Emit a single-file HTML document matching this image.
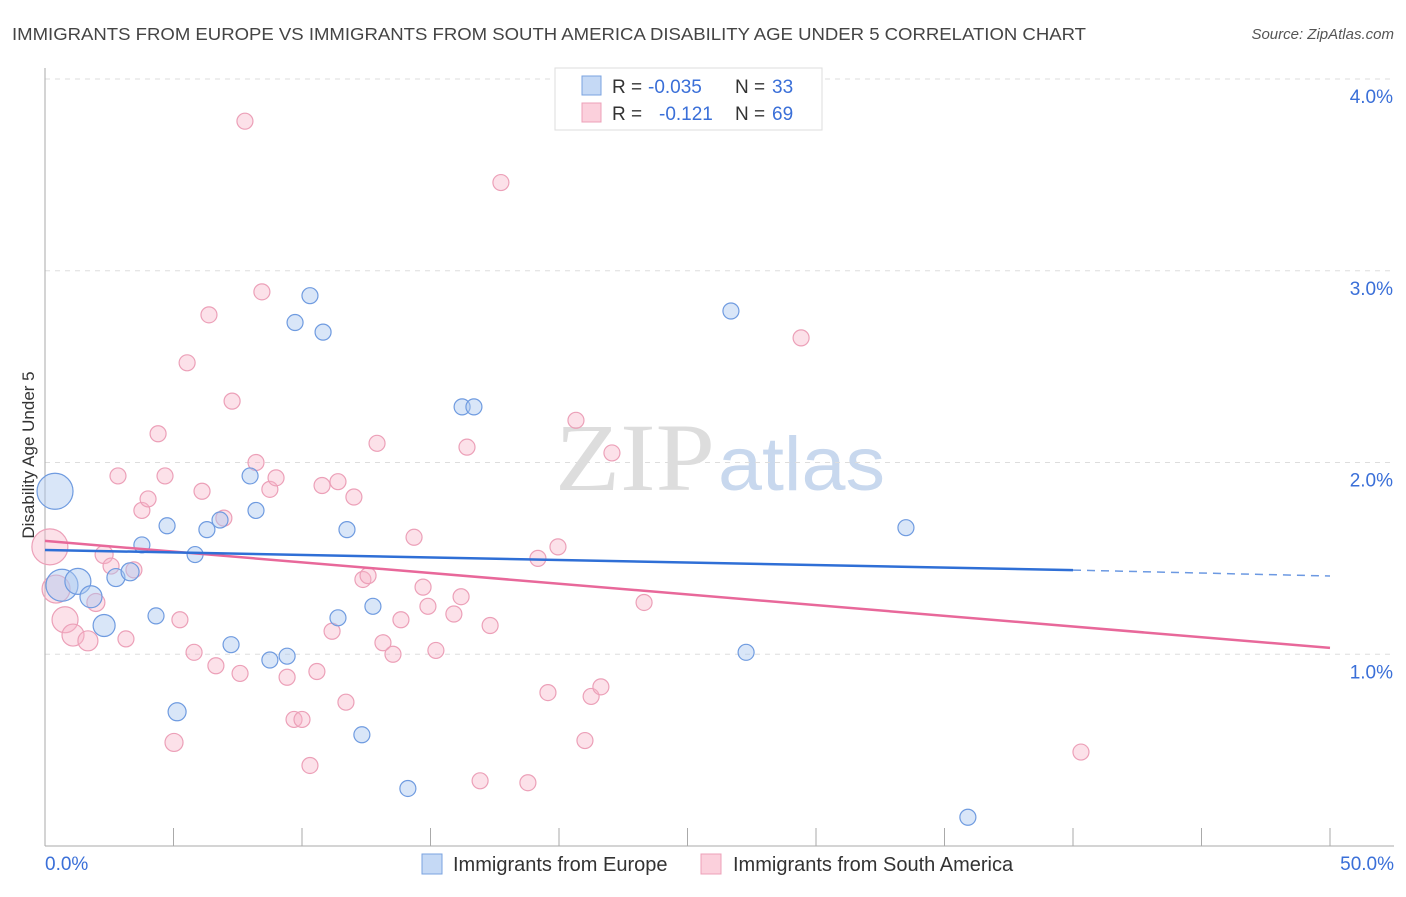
<!DOCTYPE html>
<html><head><meta charset="utf-8"><style>
body{margin:0;background:#fff;font-family:"Liberation Sans",sans-serif;}
</style></head><body>
<svg width="1406" height="892" xmlns="http://www.w3.org/2000/svg" font-family="Liberation Sans, sans-serif">
<text x="12" y="40" font-size="17.5" fill="#444" textLength="1074" lengthAdjust="spacingAndGlyphs">IMMIGRANTS FROM EUROPE VS IMMIGRANTS FROM SOUTH AMERICA DISABILITY AGE UNDER 5 CORRELATION CHART</text>
<text x="1394" y="39" font-size="15" fill="#555" font-style="italic" text-anchor="end">Source: ZipAtlas.com</text>
<text x="555" y="490" font-size="96" fill="#ddd" textLength="160" lengthAdjust="spacingAndGlyphs" font-family="Liberation Serif, serif">ZIP</text>
<text x="718" y="490" font-size="76" fill="#c8d8ee" textLength="167" lengthAdjust="spacingAndGlyphs">atlas</text>
<g id="grid"></g><g id="axes"></g><g id="pts"></g><g id="lines"></g>
<text transform="translate(34,455) rotate(-90)" font-size="17" fill="#333" text-anchor="middle">Disability Age Under 5</text>
<g>
<rect x="555" y="68" width="267" height="62" fill="#fff" stroke="#ddd"/>
<rect x="582" y="76" width="19" height="19" fill="#c5d9f5" stroke="#7aa3e0"/>
<rect x="582" y="103" width="19" height="19" fill="#fbd0dc" stroke="#eca0b8"/>
<text x="612" y="93" font-size="19" fill="#333">R =</text>
<text x="648" y="93" font-size="19" fill="#3a6fd8">-0.035</text>
<text x="735" y="93" font-size="19" fill="#333">N =</text>
<text x="772" y="93" font-size="19" fill="#3a6fd8">33</text>
<text x="612" y="120" font-size="19" fill="#333">R =</text>
<text x="659" y="120" font-size="19" fill="#3a6fd8">-0.121</text>
<text x="735" y="120" font-size="19" fill="#333">N =</text>
<text x="772" y="120" font-size="19" fill="#3a6fd8">69</text>
</g>
<g>
<rect x="422" y="854" width="20" height="20" fill="#c5d9f5" stroke="#7aa3e0"/>
<text x="453" y="871" font-size="20" fill="#333">Immigrants from Europe</text>
<rect x="701" y="854" width="20" height="20" fill="#fbd0dc" stroke="#eca0b8"/>
<text x="733" y="871" font-size="20" fill="#333">Immigrants from South America</text>
</g>
</svg>
<script>
const yTicks=[1,2,3,4];
const xTickLabels=["0.0%","50.0%"];
const blueX=[0.39,0.66,1.28,1.79,2.30,2.76,3.31,3.77,4.32,4.75,5.14,5.84,6.30,6.81,7.24,7.98,8.21,8.75,9.42,9.73,10.31,10.82,11.40,11.75,12.33,12.76,14.12,16.23,16.69,26.69,27.28,33.50,35.91];
const blueY=[1.85,1.36,1.38,1.30,1.15,1.40,1.43,1.57,1.20,1.67,0.70,1.52,1.65,1.70,1.05,1.93,1.75,0.97,0.99,2.73,2.87,2.68,1.19,1.65,0.58,1.25,0.30,2.29,2.29,2.79,1.01,1.66,0.15];
const blueR=[18,16,13,11,11,9,9,8,8,8,9,8,8,8,8,8,8,8,8,8,8,8,8,8,8,8,8,8,8,8,8,8,8];
const pinkX=[0.19,0.43,0.78,1.09,1.67,1.98,2.30,2.57,2.84,3.15,3.46,3.77,4.01,4.40,4.67,5.02,5.25,5.53,5.80,6.11,6.38,6.65,6.96,7.28,7.59,7.78,8.21,8.44,8.75,8.99,9.42,9.69,10.00,10.31,10.58,10.78,11.17,11.40,11.71,12.02,12.37,12.57,12.92,13.15,13.54,13.85,14.36,14.71,14.90,15.21,15.91,16.19,16.42,16.93,17.32,17.74,18.79,19.18,19.57,19.96,20.66,21.01,21.25,21.63,22.06,23.31,29.42,40.31];
const pinkY=[1.56,1.34,1.18,1.10,1.07,1.27,1.52,1.46,1.93,1.08,1.44,1.75,1.81,2.15,1.93,0.54,1.18,2.52,1.01,1.85,2.77,0.94,1.71,2.32,0.90,3.78,2.00,2.89,1.86,1.92,0.88,0.66,0.66,0.42,0.91,1.88,1.12,1.90,0.75,1.82,1.39,1.41,2.10,1.06,1.00,1.18,1.61,1.35,1.25,1.02,1.21,1.30,2.08,0.34,1.15,3.46,0.33,1.50,0.80,1.56,2.22,0.55,0.78,0.83,2.05,1.27,2.65,0.49];
const pinkR=[18,14,13,11,10,9,9,8,8,8,8,8,8,8,8,9,8,8,8,8,8,8,8,8,8,8,8,8,8,8,8,8,8,8,8,8,8,8,8,8,8,8,8,8,8,8,8,8,8,8,8,8,8,8,8,8,8,8,8,8,8,8,8,8,8,8,8,8];
const blueTrend=[1.544,1.439,1.408]; // at 0%,40%,50%
const pinkTrend=[1.591,1.033]; // at 0%,50%
const NS="http://www.w3.org/2000/svg";
const X=v=>45+v*25.7, Y=v=>846-v*191.75;
function mk(p,t,a){const e=document.createElementNS(NS,t);for(const k in a)e.setAttribute(k,a[k]);p.appendChild(e);return e;}
const grid=document.getElementById('grid'),axes=document.getElementById('axes'),pts=document.getElementById('pts'),lines=document.getElementById('lines');
yTicks.forEach(t=>{
 const l=mk(grid,'line',{x1:45,x2:1394,y1:Y(t),y2:Y(t),stroke:'#ddd','stroke-dasharray':'5,5'});
 
 
 const tx=mk(axes,'text',{x:1393,y:Y(t)+24,'font-size':19,fill:'#3a6fd8','text-anchor':'end'});
 tx.textContent=t.toFixed(1)+'%';
 
 
});
mk(axes,'line',{x1:45,x2:45,y1:68,y2:846,stroke:'#aaa'});
mk(axes,'line',{x1:45,x2:1394,y1:846,y2:846,stroke:'#aaa'});
for(let i=0;i<=10;i++){const t=mk(axes,'line',{x1:X(i*5),x2:X(i*5),y1:828,y2:846,stroke:'#aaa'});
 
 }
const xl0=mk(axes,'text',{x:45,y:870,'font-size':19,fill:'#3a6fd8'});xl0.textContent=xTickLabels[0];


const xl1=mk(axes,'text',{x:1394,y:870,'font-size':19,fill:'#3a6fd8','text-anchor':'end'});xl1.textContent=xTickLabels[1];


pinkX.forEach((v,i)=>{const c=mk(pts,'circle',{cx:X(v),cy:Y(pinkY[i]),r:pinkR[i],fill:'rgba(248,180,200,0.4)',stroke:'#eca0b8','stroke-width':1.2});
 
 });
blueX.forEach((v,i)=>{const c=mk(pts,'circle',{cx:X(v),cy:Y(blueY[i]),r:blueR[i],fill:'rgba(170,200,240,0.45)',stroke:'#6f9be0','stroke-width':1.2});
 
 });
const pl=mk(lines,'line',{x1:X(0),y1:Y(pinkTrend[0]),x2:X(50),y2:Y(pinkTrend[1]),stroke:'#e8689a','stroke-width':2.5});


const bl=mk(lines,'line',{x1:X(0),y1:Y(blueTrend[0]),x2:X(40),y2:Y(blueTrend[1]),stroke:'#2f6fd6','stroke-width':2.5});


const bd=mk(lines,'line',{x1:X(40),y1:Y(blueTrend[1]),x2:X(50),y2:Y(blueTrend[2]),stroke:'#2f6fd6','stroke-width':1.5,'stroke-dasharray':'8,6',opacity:0.7});


</script>
</body></html>
